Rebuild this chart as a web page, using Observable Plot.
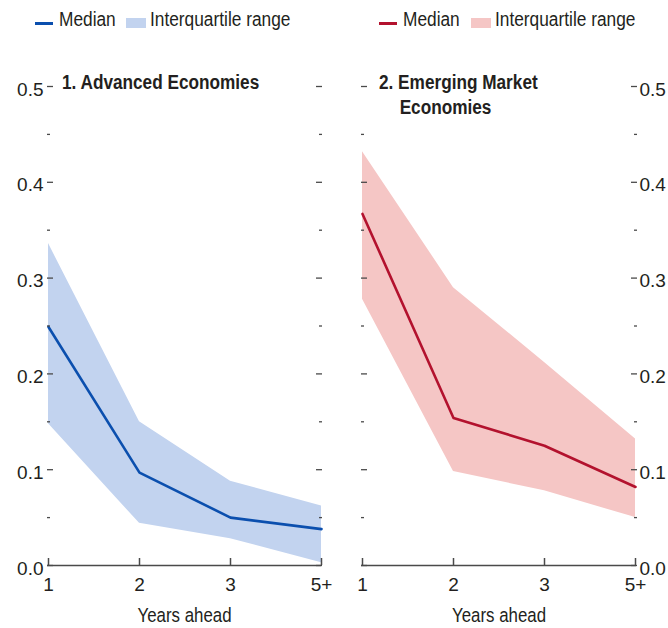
<!DOCTYPE html>
<html>
<head>
<meta charset="utf-8">
<script src="https://cdn.jsdelivr.net/npm/d3@7"></script>
<script src="https://cdn.jsdelivr.net/npm/@observablehq/plot@0.6"></script>
<style>
  body { margin: 0; background: #fff; }
  #wrap { position: relative; width: 668px; height: 628px; overflow: hidden; color: #231f20;
          font-family: "Liberation Sans", Arial, sans-serif; }
  .leg { position: absolute; top: 5px; height: 28px; font-size: 20px; line-height: 28px; white-space: nowrap; }
  .legline { position: absolute; height: 3px; top: 17px; }
  .legsw { position: absolute; top: 13px; width: 20px; height: 10px; }
  .legtx { position: absolute; top: 0; transform: scaleX(0.865); transform-origin: left center; }
  .title { position: absolute; top: 70px; font-weight: bold; font-size: 20px; line-height: 25px; white-space: nowrap;
           transform: scaleX(0.86); transform-origin: left top; }
  .panel { position: absolute; top: 40px; }
</style>
</head>
<body>
<div id="wrap">
  <div class="leg" style="left:0">
    <div class="legline" style="left:35px;width:18px;background:#0b4fae"></div>
    <div class="legtx" style="left:59px">Median</div>
    <div class="legsw" style="left:126px;background:#c2d3ef"></div>
    <div class="legtx" style="left:150px">Interquartile range</div>
  </div>
  <div class="leg" style="left:334px">
    <div class="legline" style="left:45px;width:18px;background:#b3122e"></div>
    <div class="legtx" style="left:69px">Median</div>
    <div class="legsw" style="left:137px;background:#f5c6c5"></div>
    <div class="legtx" style="left:161px">Interquartile range</div>
  </div>
  <div id="p1" class="panel" style="left:0"></div>
  <div id="p2" class="panel" style="left:334px"></div>
  <div class="title" style="left:62px">1. Advanced Economies</div>
  <div class="title" style="left:379px"><div>2. Emerging Market</div><div style="padding-left:24px">Economies</div></div>
</div>
<script>
const years = ["1", "2", "3", "5+"];
const aeMedian = [0.249, 0.097, 0.050, 0.038];
const aeQ1 = [0.148, 0.044, 0.028, 0.003];
const aeQ3 = [0.336, 0.150, 0.088, 0.062];
const emMedian = [0.367, 0.154, 0.125, 0.082];
const emQ1 = [0.278, 0.098, 0.078, 0.050];
const emQ3 = [0.432, 0.290, 0.212, 0.132];
const majorTicks = [0, 0.1, 0.2, 0.3, 0.4, 0.5];
const minorTicks = [0.05, 0.15, 0.25, 0.35, 0.45];

const regular = '"Liberation Sans", Arial, sans-serif';
const axisColor = "#4a4a4a";

function panel({median, q1, q3, lineColor, bandColor, labelSide, marginLeft, marginRight}) {
  const data = years.map((y, i) => ({year: y, median: median[i], q1: q1[i], q3: q3[i]}));
  return Plot.plot({
    width: 334,
    height: 588,
    marginLeft,
    marginRight,
    marginTop: 46,
    marginBottom: 63,
    style: {fontFamily: regular, fontSize: "19px", color: "#231f20", background: "transparent"},
    x: {type: "point", domain: years, padding: 0},
    y: {domain: [0, 0.5]},
    marks: [
      Plot.areaY(data, {x: "year", y1: "q1", y2: "q3", fill: bandColor}),
      Plot.lineY(data, {x: "year", y: "median", stroke: lineColor, strokeWidth: 2.6}),
      Plot.ruleY([0], {stroke: axisColor, strokeWidth: 1.5}),
      Plot.axisX({tickSize: 7, dy: -7, text: null, label: null, stroke: axisColor, strokeWidth: 1.5}),
      Plot.axisX({tickSize: 0, tickPadding: 12, fontSize: 19, label: "Years ahead", labelAnchor: "center", labelArrow: "none",
                  labelOffset: 56}),
      Plot.axisY({ticks: majorTicks, anchor: "left", tickSize: 6, dx: 6, text: null, label: null, stroke: axisColor, strokeWidth: 1.3}),
      Plot.axisY({ticks: minorTicks, anchor: "left", tickSize: 3, dx: 3, text: null, label: null, stroke: axisColor, strokeWidth: 1.3}),
      Plot.axisY({ticks: majorTicks, anchor: "right", tickSize: 6, dx: -6, text: null, label: null, stroke: axisColor, strokeWidth: 1.3}),
      Plot.axisY({ticks: minorTicks, anchor: "right", tickSize: 3, dx: -3, text: null, label: null, stroke: axisColor, strokeWidth: 1.3}),
      Plot.axisY({ticks: majorTicks, anchor: labelSide, tickSize: 0, tickPadding: labelSide === "left" ? 4 : 3, dy: 3,
                  fontSize: 19, tickFormat: d3.format(".1f"), label: null})
    ]
  });
}

const p1 = panel({median: aeMedian, q1: aeQ1, q3: aeQ3, lineColor: "#0b4fae", bandColor: "#c2d3ef",
                  labelSide: "left", marginLeft: 47, marginRight: 13});
const p2 = panel({median: emMedian, q1: emQ1, q3: emQ3, lineColor: "#b3122e", bandColor: "#f5c6c5",
                  labelSide: "right", marginLeft: 27, marginRight: 32});
document.getElementById("p1").appendChild(p1);
document.getElementById("p2").appendChild(p2);
// Condense the x-axis title to match the reference's narrow face
for (const svg of [p1, p2]) {
  svg.querySelectorAll("text").forEach(t => {
    if (t.textContent === "Years ahead") {
      t.setAttribute("font-size", "20.5px");
      t.setAttribute("textLength", "94");
      t.setAttribute("lengthAdjust", "spacingAndGlyphs");
    }
  });
}
</script>
</body>
</html>
